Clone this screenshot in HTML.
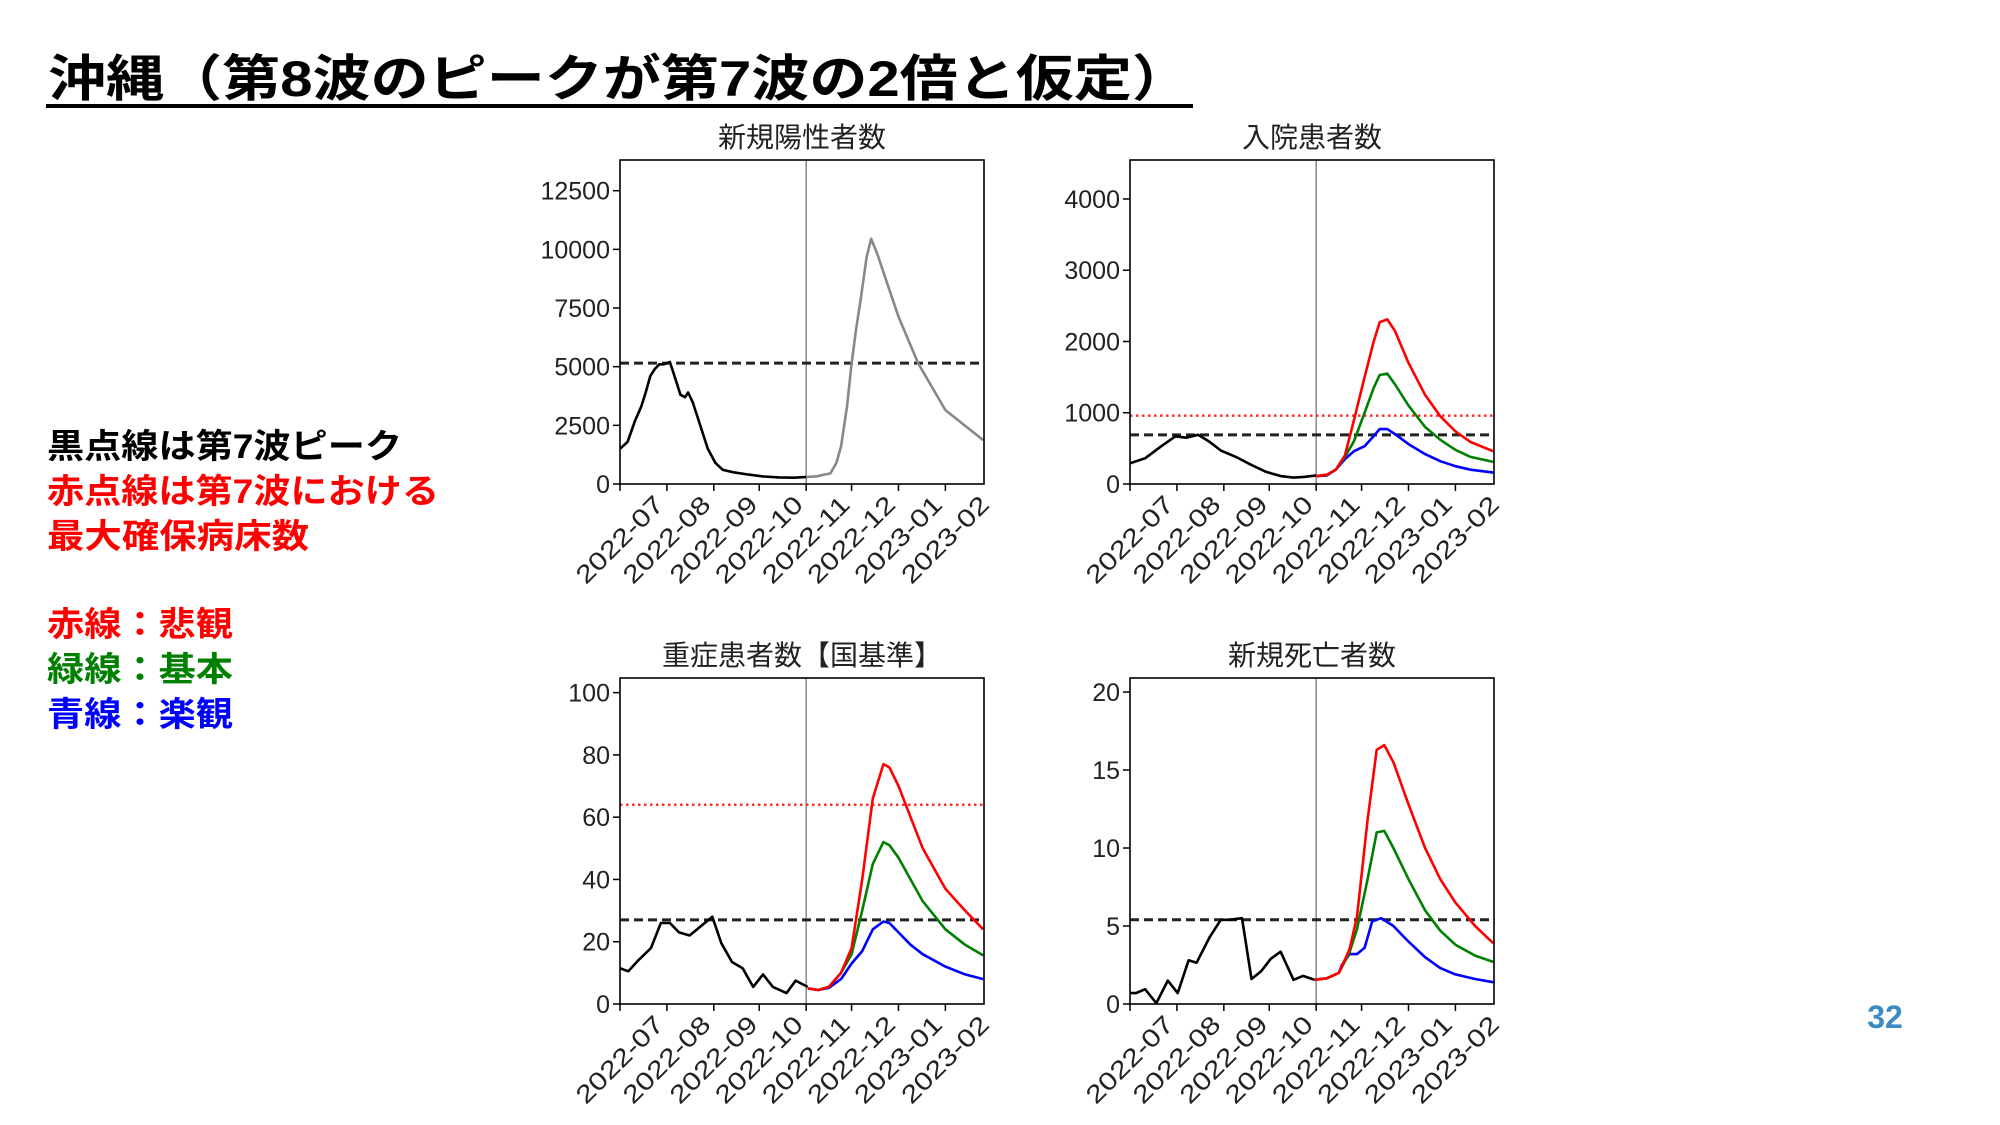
<!DOCTYPE html>
<html><head><meta charset="utf-8">
<style>
html,body{margin:0;padding:0;background:#fff;}
svg{display:block;}
text{font-family:"Liberation Sans","Noto Sans CJK JP",sans-serif;}
</style></head>
<body>
<svg id="root" width="2000" height="1125" viewBox="0 0 2000 1125" xmlns="http://www.w3.org/2000/svg">
  <g>
    <text x="48" y="96" font-size="50" font-weight="bold" textLength="1142" lengthAdjust="spacingAndGlyphs" style="font-family:'Liberation Sans','Noto Sans CJK JP',sans-serif">沖縄（第8波のピークが第7波の2倍と仮定）</text>
    <rect x="46" y="104" width="1147" height="4" fill="#000"/>
  </g>
  <g font-weight="bold" font-size="34">
    <text x="47" y="458" fill="#000" textLength="355" lengthAdjust="spacingAndGlyphs">黒点線は第7波ピーク</text>
    <text x="47" y="503" fill="#ff0000" textLength="392" lengthAdjust="spacingAndGlyphs">赤点線は第7波における</text>
    <text x="47" y="548" fill="#ff0000" textLength="262" lengthAdjust="spacingAndGlyphs">最大確保病床数</text>
    <text x="47" y="636" fill="#ff0000" textLength="186" lengthAdjust="spacingAndGlyphs">赤線：悲観</text>
    <text x="47" y="681" fill="#008000" textLength="186" lengthAdjust="spacingAndGlyphs">緑線：基本</text>
    <text x="47" y="726" fill="#0000ff" textLength="186" lengthAdjust="spacingAndGlyphs">青線：楽観</text>
  </g>
  <text x="1885" y="1028" font-size="32" font-weight="bold" fill="#3c8cc4" text-anchor="middle">32</text>
  <g id="charts"></g>
</svg>
<script>
// Shared x-axis (days since 2022-07-01)
const monthTickDays = [0, 31, 62, 92, 123, 153, 184, 215];
const monthTickLabels = ["2022-07","2022-08","2022-09","2022-10","2022-11","2022-12","2023-01","2023-02"];
const splitDay = 123;

// Chart 1: new positives
const posActualDays = [0,5,10,14,17,20,23,26,29,33,36,40,43,45,48,52,58,63,68,75,85,95,105,115,123];
const posActualVals = [1500,1800,2700,3300,3900,4600,4900,5100,5100,5200,4600,3800,3700,3900,3500,2700,1500,900,600,500,400,320,280,270,300];
const posProjDays = [123,130,135,139,143,146,150,153,156,159,163,166,170,175,184,197,215,240];
const posProjVals = [300,330,400,450,900,1590,3300,5140,6600,7840,9690,10450,9800,8840,7130,5140,3150,1870];
const posPeak = 5150;
const posTicks = [0,2500,5000,7500,10000,12500];

// Chart 2: hospitalized
const hospActualDays = [0,10,20,30,37,45,52,60,70,80,90,100,108,115,123];
const hospActualVals = [290,360,520,670,650,690,600,470,380,270,170,110,90,100,120];
const hospRedDays = [123,130,136,142,148,155,161,165,170,175,184,195,205,215,225,240];
const hospRedVals = [110,130,200,400,900,1500,2000,2270,2310,2150,1700,1250,950,740,590,460];
const hospGreenDays = [123,130,136,142,148,155,161,165,170,175,184,195,205,215,225,240];
const hospGreenVals = [110,130,200,380,600,1000,1350,1530,1550,1400,1100,800,620,480,380,310];
const hospBlueDays = [123,130,136,142,148,155,160,165,170,175,184,195,205,215,225,240];
const hospBlueVals = [110,120,200,350,460,530,650,770,770,700,560,420,320,250,200,160];
const hospPeak = 690;
const hospBeds = 960;
const hospTicks = [0,1000,2000,3000,4000];

// Chart 3: severe
const sevActualDays = [0,5.5,12,20.5,27,33,39,46,61,67,74,81,88,94.5,101,110,116,124];
const sevActualVals = [11.5,10.5,14,18,26,26,23,22,28,19.5,13.5,11.5,5.5,9.5,5.5,3.5,7.5,5.5];
const sevRedDays = [124,131,138,146,153,160,167,174,178,184,192,200,215,228,240];
const sevRedVals = [5,4.5,5.5,10,18,40,66,77,76,70,60,50,37,30,24];
const sevGreenDays = [124,131,138,146,153,160,167,174,178,184,192,200,215,228,240];
const sevGreenVals = [5,4.5,5.5,10,16,30,45,52,51,47,40,33,24,19,15.6];
const sevBlueDays = [124,131,138,146,153,160,167,174,178,184,192,200,215,228,240];
const sevBlueVals = [5,4.5,5.2,8,13,17,24,26.5,26,23,19,16,12,9.5,8];
const sevPeak = 27;
const sevBeds = 64;
const sevTicks = [0,20,40,60,80,100];

// Chart 4: deaths
const deathActualDays = [0,4,10,17.4,25,31.5,38.7,44,52.7,60,65.5,74,80.3,86.7,93,99.5,108,114.3,122];
const deathActualVals = [0.7,0.7,0.95,0.05,1.5,0.7,2.8,2.65,4.3,5.4,5.4,5.5,1.6,2.1,2.9,3.35,1.55,1.8,1.55];
const deathRedDays = [122,130,138,145,150,157,163,168,174,184,195,205,215,228,240];
const deathRedVals = [1.55,1.65,2.0,3.5,5.6,11.8,16.3,16.6,15.5,12.8,10,8,6.5,5,3.9];
const deathGreenDays = [122,130,138,145,150,157,163,168,174,184,195,205,215,228,240];
const deathGreenVals = [1.55,1.65,2.0,3.3,4.8,8,11,11.1,10,8,6,4.7,3.8,3.1,2.7];
const deathBlueDays = [122,130,138,140,145,150,155,160,166,174,184,195,205,215,228,240];
const deathBlueVals = [1.55,1.65,2.0,2.5,3.2,3.2,3.6,5.3,5.5,5,4,3,2.3,1.9,1.6,1.4];
const deathPeak = 5.4;
const deathTicks = [0,5,10,15,20];

const NS = "http://www.w3.org/2000/svg";
const root = document.getElementById("charts");
function mk(tag, attrs, parent){
  const e = document.createElementNS(NS, tag);
  for (const k in attrs) e.setAttribute(k, attrs[k]);
  parent.appendChild(e);
  return e;
}
function drawChart(cfg){
  const g = mk("g", {}, root);
  
  
  const L=cfg.x0, R=cfg.x1, T=cfg.y0, B=cfg.y1;
  const xMax = 240.5;
  const sx = d => L + (R-L)*d/xMax;
  const sy = v => B - (B-T)*v/cfg.yMax;
  const t = mk("text", {x:(L+R)/2, y:T-13, "font-size":28, "text-anchor":"middle", fill:"#222"}, g);
  t.textContent = cfg.title;
  
  
  // y ticks
  cfg.yTicks.forEach(v=>{
    const y = sy(v);
    const tk = mk("line", {x1:L-7, x2:L, y1:y, y2:y, stroke:"#000", "stroke-width":1.5}, g);
    
    
    const lb = mk("text", {x:L-10, y:y+9, "font-size":25, "text-anchor":"end", fill:"#222"}, g);
    lb.textContent = String(v);
    
    
  });
  // x ticks
  monthTickDays.forEach((d,i)=>{
    const x = sx(d);
    const tk = mk("line", {x1:x, x2:x, y1:B, y2:B+7, stroke:"#000", "stroke-width":1.5}, g);
    
    
    const cy = B+56;
    const lb = mk("text", {x:x, y:cy+8, "font-size":25, "text-anchor":"middle", fill:"#222", textLength:112, lengthAdjust:"spacingAndGlyphs", transform:`rotate(-45 ${x} ${cy})`}, g);
    lb.textContent = monthTickLabels[i];
    
    
  });
  // split line
  const vl = mk("line", {x1:sx(splitDay), x2:sx(splitDay), y1:T, y2:B, stroke:"#777", "stroke-width":1.3}, g);
  
  
  // reference lines
  if (cfg.beds!==undefined){
    const bl = mk("line", {x1:L, x2:R, y1:sy(cfg.beds), y2:sy(cfg.beds), stroke:"#ff3030", "stroke-width":2.5, "stroke-dasharray":"2.5 3.5"}, g);
    
    
  }
  const pl = mk("line", {x1:L, x2:R, y1:sy(cfg.peak), y2:sy(cfg.peak), stroke:"#222", "stroke-width":3, "stroke-dasharray":"9 5"}, g);
  
  
  // series
  cfg.series.forEach(s=>{
    const pts = s.days.map((d,i)=>`${sx(d).toFixed(1)},${sy(s.vals[i]).toFixed(1)}`).join(" ");
    const p = mk("polyline", {points:pts, fill:"none", stroke:s.color, "stroke-width":2.6, "stroke-linejoin":"round"}, g);
    
    
  });
  const box = mk("rect", {x:L, y:T, width:R-L, height:B-T, fill:"none", stroke:"#000", "stroke-width":1.6}, g);
  
  
}
drawChart({name:"chart-new-positives", title:"新規陽性者数", x0:620, x1:984, y0:160, y1:484, yMax:13808, yTicks:posTicks, peak:posPeak,
  series:[{name:"positives-actual-line", days:posActualDays, vals:posActualVals, color:"#000"},
          {name:"positives-projection-line", days:posProjDays, vals:posProjVals, color:"#888"}]});
drawChart({name:"chart-hospitalized", title:"入院患者数", x0:1130, x1:1494, y0:160, y1:484, yMax:4547, yTicks:hospTicks, peak:hospPeak, beds:hospBeds,
  series:[{name:"hospitalized-actual-line", days:hospActualDays, vals:hospActualVals, color:"#000"},
          {name:"hospitalized-optimistic-line", days:hospBlueDays, vals:hospBlueVals, color:"#0000ff"},
          {name:"hospitalized-base-line", days:hospGreenDays, vals:hospGreenVals, color:"#008000"},
          {name:"hospitalized-pessimistic-line", days:hospRedDays, vals:hospRedVals, color:"#ff0000"}]});
drawChart({name:"chart-severe", title:"重症患者数【国基準】", x0:620, x1:984, y0:678, y1:1004, yMax:104.7, yTicks:sevTicks, peak:sevPeak, beds:sevBeds,
  series:[{name:"severe-actual-line", days:sevActualDays, vals:sevActualVals, color:"#000"},
          {name:"severe-optimistic-line", days:sevBlueDays, vals:sevBlueVals, color:"#0000ff"},
          {name:"severe-base-line", days:sevGreenDays, vals:sevGreenVals, color:"#008000"},
          {name:"severe-pessimistic-line", days:sevRedDays, vals:sevRedVals, color:"#ff0000"}]});
drawChart({name:"chart-new-deaths", title:"新規死亡者数", x0:1130, x1:1494, y0:678, y1:1004, yMax:20.9, yTicks:deathTicks, peak:deathPeak,
  series:[{name:"deaths-actual-line", days:deathActualDays, vals:deathActualVals, color:"#000"},
          {name:"deaths-optimistic-line", days:deathBlueDays, vals:deathBlueVals, color:"#0000ff"},
          {name:"deaths-base-line", days:deathGreenDays, vals:deathGreenVals, color:"#008000"},
          {name:"deaths-pessimistic-line", days:deathRedDays, vals:deathRedVals, color:"#ff0000"}]});
</script>
</body></html>
